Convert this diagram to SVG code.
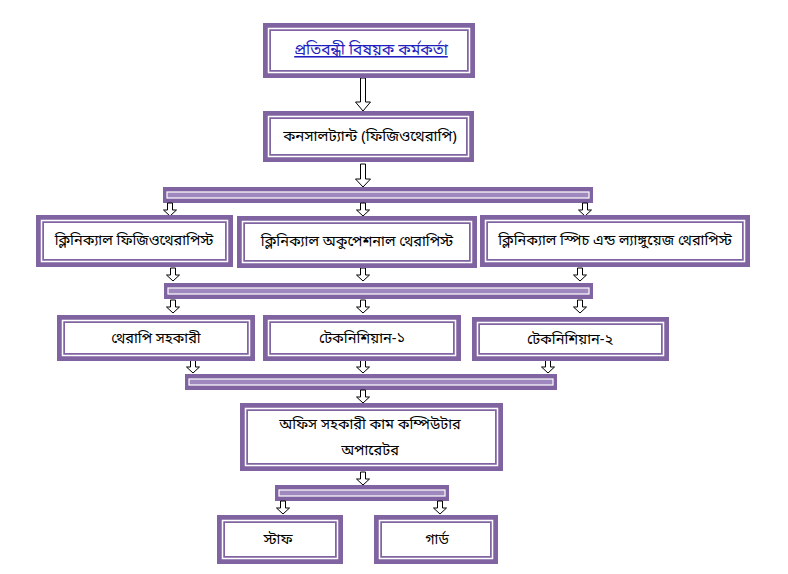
<svg xmlns="http://www.w3.org/2000/svg" width="788" height="574" viewBox="0 0 788 574">
<defs>
<style>
.o{fill:#8064A2}
.w{fill:none;stroke:#fff;stroke-width:1.5}
.i{fill:#fff}
.bi{fill:#9E88BE;stroke:#fff;stroke-width:1.2}
.ar{fill:#fff;stroke:#000;stroke-width:1}
text{font-family:"Noto Sans Bengali","Lohit Bengali","Noto Sans","DejaVu Sans",sans-serif;font-size:14.5px;fill:#000;text-anchor:middle}
</style>
<path id="big" d="M-2.5,0 h5 v24 h5 l-7.5,9 l-7.5,-9 h5 z"/>
<path id="mid" d="M-2.5,0 h5 v15 h5 l-7.5,8 l-7.5,-8 h5 z"/>
<path id="sm" d="M-2.5,0 h5 v7 h4 l-6.5,6 l-6.5,-6 h4 z"/>
</defs>
<rect width="788" height="574" fill="#fff"/>

<g id="connectors">
<use href="#big" x="363" y="78" class="ar"/>
<use href="#mid" x="363" y="164" class="ar"/>
<g id="bar1"><rect x="163" y="187" width="430" height="16" class="o"/><rect x="167" y="192" width="422" height="6" class="bi"/></g>
<use href="#sm" x="170" y="203" class="ar"/>
<use href="#sm" x="363" y="203" class="ar"/>
<use href="#sm" x="585" y="203" class="ar"/>
<use href="#sm" x="173" y="268" class="ar"/>
<use href="#sm" x="363" y="268" class="ar"/>
<use href="#sm" x="580" y="268" class="ar"/>
<g id="bar2"><rect x="164" y="283" width="429" height="16" class="o"/><rect x="168" y="288" width="421" height="6" class="bi"/></g>
<use href="#sm" x="173" y="300" class="ar"/>
<use href="#sm" x="363" y="300" class="ar"/>
<use href="#sm" x="580" y="300" class="ar"/>
<use href="#sm" x="193" y="360" class="ar"/>
<use href="#sm" x="363" y="360" class="ar"/>
<use href="#sm" x="548" y="360" class="ar"/>
<g id="bar3"><rect x="185" y="374" width="372" height="16" class="o"/><rect x="189" y="379" width="364" height="6" class="bi"/></g>
<use href="#sm" x="363" y="390" class="ar"/>
<use href="#sm" x="363" y="472" class="ar"/>
<g id="bar4"><rect x="275" y="485" width="174" height="16" class="o"/><rect x="279" y="490" width="166" height="6" class="bi"/></g>
<use href="#sm" x="283" y="501" class="ar"/>
<use href="#sm" x="440" y="501" class="ar"/>
</g>

<g id="n1"><rect x="263" y="23" width="212" height="55" class="o"/><rect x="268.5" y="28.5" width="201" height="44" class="w"/><rect x="271" y="31" width="196" height="39" class="i"/>
<text x="371" y="55" style="fill:#1F1FC0;font-size:15.5px" text-decoration="underline">প্রতিবন্ধী বিষয়ক কর্মকর্তা</text></g>

<g id="n2"><rect x="263" y="111" width="211" height="51" class="o"/><rect x="268.5" y="116.5" width="200" height="40" class="w"/><rect x="271" y="119" width="195" height="35" class="i"/>
<text x="370" y="141" style="font-size:15px">কনসালট্যান্ট (ফিজিওথেরাপি)</text></g>

<g id="n3"><rect x="36" y="215" width="197" height="52" class="o"/><rect x="41.5" y="220.5" width="186" height="41" class="w"/><rect x="44" y="223" width="181" height="36" class="i"/>
<text x="134" y="245">ক্লিনিক্যাল ফিজিওথেরাপিস্ট</text></g>

<g id="n4"><rect x="237" y="216" width="240" height="52" class="o"/><rect x="242.5" y="221.5" width="229" height="41" class="w"/><rect x="245" y="224" width="224" height="36" class="i"/>
<text x="357" y="246">ক্লিনিক্যাল অকুপেশনাল থেরাপিস্ট</text></g>

<g id="n5"><rect x="480" y="215" width="270" height="52" class="o"/><rect x="485.5" y="220.5" width="259" height="41" class="w"/><rect x="488" y="223" width="254" height="36" class="i"/>
<text x="615" y="245">ক্লিনিক্যাল স্পিচ এন্ড ল্যাঙ্গুয়েজ থেরাপিস্ট</text></g>

<g id="n6"><rect x="57" y="315" width="198" height="46" class="o"/><rect x="62.5" y="320.5" width="187" height="35" class="w"/><rect x="65" y="323" width="182" height="30" class="i"/>
<text x="156" y="343">থেরাপি সহকারী</text></g>

<g id="n7"><rect x="263" y="315" width="198" height="46" class="o"/><rect x="268.5" y="320.5" width="187" height="35" class="w"/><rect x="271" y="323" width="182" height="30" class="i"/>
<text x="362" y="343">টেকনিশিয়ান-১</text></g>

<g id="n8"><rect x="472" y="317" width="197" height="44" class="o"/><rect x="477.5" y="322.5" width="186" height="33" class="w"/><rect x="480" y="325" width="181" height="28" class="i"/>
<text x="570" y="344">টেকনিশিয়ান-২</text></g>

<g id="n9"><rect x="240" y="403" width="263" height="68" class="o"/><rect x="245.5" y="408.5" width="252" height="57" class="w"/><rect x="248" y="411" width="247" height="52" class="i"/>
<text x="370" y="429">অফিস সহকারী কাম কম্পিউটার</text>
<text x="370" y="455">অপারেটর</text></g>

<g id="n10"><rect x="217" y="515" width="126" height="49" class="o"/><rect x="222.5" y="520.5" width="115" height="38" class="w"/><rect x="225" y="523" width="110" height="33" class="i"/>
<text x="278" y="544">স্টাফ</text></g>

<g id="n11"><rect x="374" y="515" width="124" height="49" class="o"/><rect x="379.5" y="520.5" width="113" height="38" class="w"/><rect x="382" y="523" width="108" height="33" class="i"/>
<text x="437" y="544">গার্ড</text></g>
</svg>
